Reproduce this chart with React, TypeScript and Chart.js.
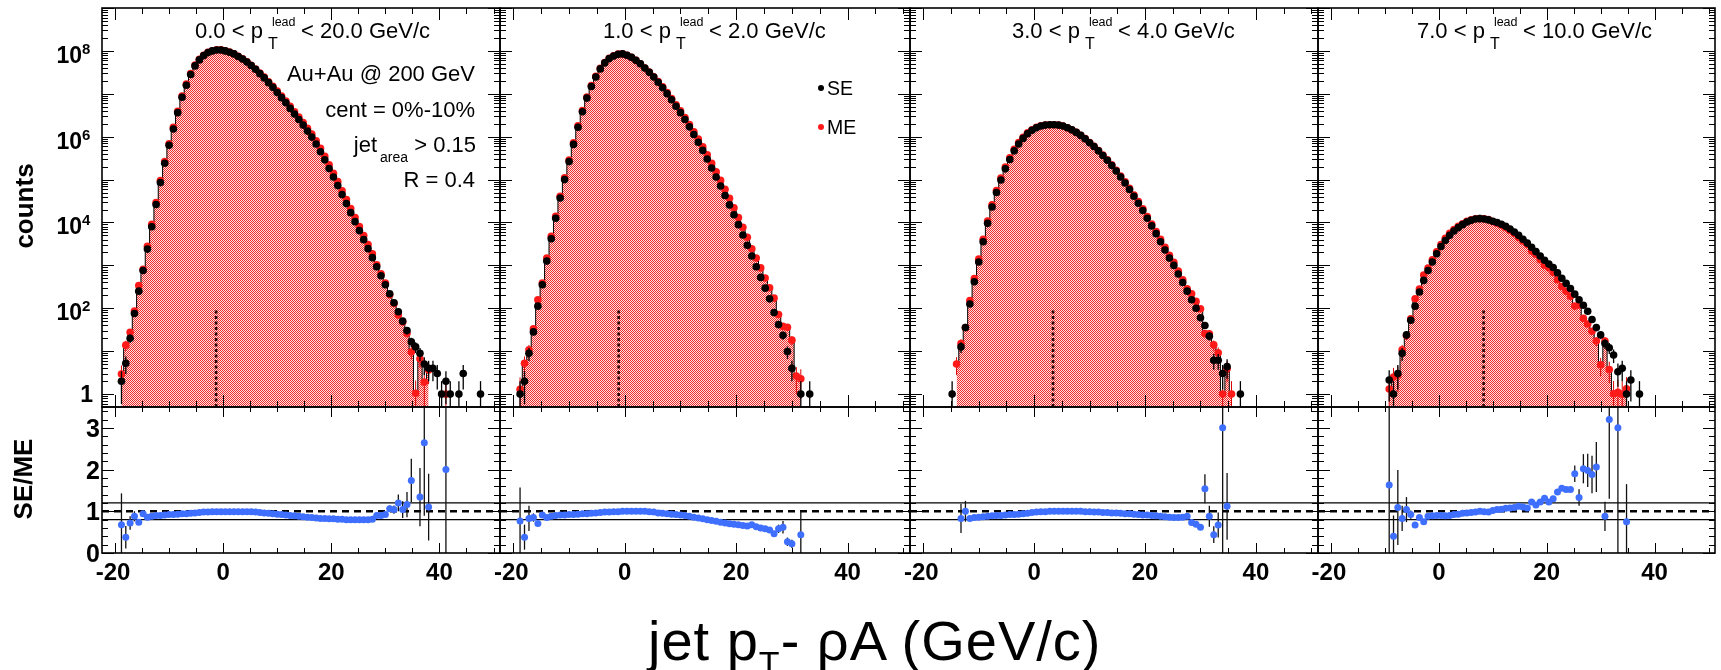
import React, { useEffect, useRef } from "react";
import { Chart, registerables } from "chart.js";

Chart.register(...registerables);

const W = 1721;
const H = 670;
const FONT = '"Liberation Sans", Arial, Helvetica, sans-serif';

// ---------------- DATA ----------------
// bin centres of the jet pT - rho*A histograms (GeV/c)
const BIN_CENTERS = [
  -19.6, -18.8, -18.0, -17.2, -16.4, -15.6, -14.8, -14.0, -13.2, -12.4,
  -11.6, -10.8, -10.0, -9.2, -8.4, -7.6, -6.8, -6.0, -5.2, -4.4,
  -3.6, -2.8, -2.0, -1.2, -0.4, 0.4, 1.2, 2.0, 2.8, 3.6,
  4.4, 5.2, 6.0, 6.8, 7.6, 8.4, 9.2, 10.0, 10.8, 11.6,
  12.4, 13.2, 14.0, 14.8, 15.6, 16.4, 17.2, 18.0, 18.8, 19.6,
  20.4, 21.2, 22.0, 22.8, 23.6, 24.4, 25.2, 26.0, 26.8, 27.6,
  28.4, 29.2, 30.0, 30.8, 31.6, 32.4, 33.2, 34.0, 34.8, 35.6,
  36.4, 37.2, 38.0, 38.8, 39.6, 40.4, 41.2, 42.0, 42.8, 43.6,
  44.4, 45.2, 46.0, 46.8, 47.6,
];

// same-event (SE) counts, log10
const SE_LOG_P1 = [
  null, 0.3, 0.72, 1.3, 1.88, 2.4, 2.88, 3.38, 3.9, 4.42,
  4.93, 5.38, 5.8, 6.18, 6.56, 6.92, 7.2, 7.45, 7.65, 7.79,
  7.89, 7.96, 8.0, 8.02, 8.02, 8.0, 7.97, 7.93, 7.87, 7.81,
  7.74, 7.66, 7.57, 7.47, 7.37, 7.26, 7.15, 7.03, 6.91, 6.79,
  6.66, 6.53, 6.4, 6.27, 6.13, 5.99, 5.83, 5.65, 5.46, 5.26,
  5.06, 4.86, 4.65, 4.44, 4.23, 4.02, 3.81, 3.6, 3.39, 3.18,
  2.97, 2.76, 2.55, 2.34, 2.13, 1.92, 1.7, 1.48, 1.22, 1.1,
  0.95, 0.7, 0.6, 0.6, 0.48, 0, 0.3, 0, null, 0,
  0.48, null, null, null, 0,
];
const SE_LOG_P2 = [
  null, 0.0, 0.3, 0.95, 1.45, 2.05, 2.55, 3.1, 3.62, 4.1,
  4.57, 5.0, 5.42, 5.82, 6.22, 6.58, 6.9, 7.17, 7.39, 7.58,
  7.72, 7.82, 7.88, 7.92, 7.93, 7.9, 7.85, 7.78, 7.7, 7.6,
  7.5, 7.39, 7.27, 7.14, 7.0, 6.86, 6.71, 6.56, 6.4, 6.23,
  6.05, 5.87, 5.68, 5.48, 5.27, 5.06, 4.85, 4.63, 4.41, 4.18,
  3.95, 3.71, 3.47, 3.22, 2.97, 2.72, 2.47, 2.22, 1.9, 1.62,
  1.37, 0.99, 0.6, null, 0, null, 0, null, null, null,
];
const SE_LOG_P3 = [
  null, null, null, null, null, null, 0, null, 1.1, 1.55,
  2.1, 2.62, 3.08, 3.55, 3.98, 4.36, 4.7, 4.99, 5.25, 5.47,
  5.67, 5.83, 5.96, 6.07, 6.15, 6.21, 6.25, 6.27, 6.28, 6.28,
  6.27, 6.25, 6.21, 6.16, 6.1, 6.03, 5.95, 5.86, 5.77, 5.67,
  5.56, 5.45, 5.33, 5.2, 5.06, 4.92, 4.77, 4.61, 4.45, 4.28,
  4.1, 3.92, 3.74, 3.55, 3.36, 3.17, 3.0, 2.8, 2.6, 2.4,
  2.2, 2.0, 1.78, 1.6, 1.35, 0.79, 0.79, 0.48, 0.64, null,
  null, 0,
];
const SE_LOG_P4 = [
  null, null, null, null, null, null, null, null, null, null,
  null, null, null, 0.33, 0, 0.48, 0.95, 1.38, 1.72, 2.05,
  2.38, 2.65, 2.88, 3.08, 3.27, 3.44, 3.58, 3.7, 3.8, 3.88,
  3.95, 4.01, 4.05, 4.08, 4.09, 4.08, 4.06, 4.03, 4.0, 3.96,
  3.91, 3.85, 3.78, 3.7, 3.61, 3.52, 3.42, 3.32, 3.22, 3.12,
  3.03, 2.95, 2.83, 2.7, 2.58, 2.46, 2.33, 2.2, 2.07, 1.93,
  1.74, 1.55, 1.38, 1.18, 1.08, 0.91, 0.52, 0.6, 0, 0.33,
  null, 0,
];

// SE / ME ratio (values above 3.5 lie off the ratio pad)
const RATIO_P1 = [
  null, 0.68, 0.38, 0.72, 0.88, 0.74, 0.94, 0.86, 0.88, 0.9,
  0.9, 0.91, 0.92, 0.92, 0.93, 0.94, 0.94, 0.95, 0.96, 0.97,
  0.98, 0.98, 0.99, 0.99, 0.99, 0.99, 0.99, 0.99, 0.99, 0.99,
  0.99, 0.99, 0.98, 0.97, 0.96, 0.95, 0.94, 0.93, 0.92, 0.91,
  0.9, 0.89, 0.88, 0.87, 0.86, 0.85, 0.84, 0.83, 0.83, 0.82,
  0.82, 0.81, 0.81, 0.8, 0.8, 0.8, 0.8, 0.8, 0.8, 0.81,
  0.9, 0.9, 0.92, 1.06, 1.04, 1.2, 1.04, 1.16, 1.74, 12.0,
  1.34, 2.64, 1.1, null, null, null, 2.0,
];
const RATIO_P2 = [
  null, 0.77, 0.38, 0.83, 0.85, 0.71, 0.91, 0.85, 0.88, 0.9,
  0.91, 0.91, 0.92, 0.92, 0.93, 0.94, 0.94, 0.95, 0.96, 0.97,
  0.98, 0.98, 0.99, 0.99, 1.0, 1.0, 1.0, 1.0, 1.0, 1.0,
  0.99, 0.98, 0.96, 0.95, 0.94, 0.93, 0.92, 0.91, 0.9, 0.88,
  0.86, 0.84, 0.82, 0.8, 0.78, 0.76, 0.74, 0.72, 0.7, 0.69,
  0.68, 0.66, 0.65, 0.68, 0.63, 0.6, 0.58, 0.55, 0.46, 0.58,
  0.62, 0.27, 0.22, null, 0.44,
];
const RATIO_P3 = [
  null, null, null, null, null, null, null, null, 0.83, 1.0,
  0.83, 0.85, 0.86, 0.87, 0.88, 0.89, 0.9, 0.9, 0.91, 0.92,
  0.92, 0.93, 0.94, 0.95, 0.97, 0.98, 0.99, 0.99, 1.0, 1.0,
  1.0, 1.0, 1.0, 1.0, 1.0, 1.0, 0.99, 0.99, 0.98, 0.98,
  0.97, 0.97, 0.96, 0.96, 0.95, 0.94, 0.94, 0.93, 0.92, 0.91,
  0.91, 0.9, 0.89, 0.88, 0.87, 0.86, 0.85, 0.85, 0.86, 0.88,
  0.73, 0.69, 0.62, 1.54, 0.88, 0.44, 0.67, 3.0, 1.12,
];
const RATIO_P4 = [
  null, null, null, null, null, null, null, null, null, null,
  null, null, null, 1.63, 0.4, 1.09, 0.83, 1.04, 0.92, 0.67,
  0.85, 0.75, 0.88, 0.89, 0.9, 0.9, 0.89, 0.9, 0.92, 0.93,
  0.95, 0.96, 0.97, 0.98, 1.0, 0.99, 0.98, 1.02, 1.04, 1.05,
  1.07, 1.08, 1.09, 1.12, 1.1, 1.08, 1.22, 1.15, 1.22, 1.31,
  1.22, 1.3, 1.46, 1.55, 1.52, 1.52, 1.9, 1.33, 2.02, 1.98,
  1.88, 2.06, 5.0, 0.88, 3.2, 8.0, 3.0, 4.0, 0.75,
];

// visible SE/ME error bars: [bin centre, half-length]
const RATIO_ERR_P1 = [
  [-18.8, 0.75], [-18.0, 0.27], [-17.2, 0.16], [-16.4, 0.12], [-15.6, 0.06], [-14.8, 0.05],
  [30.8, 0.08], [31.6, 0.1], [32.4, 0.2], [33.2, 0.2], [34.0, 0.3], [34.8, 0.52],
  [36.4, 0.7], [37.2, 1.75], [38.0, 0.8], [41.2, 4],
];
const RATIO_ERR_P2 = [
  [-18.8, 0.8], [-18.0, 0.3], [-17.2, 0.3], [-16.4, 0.1], [-15.6, 0.05],
  [26.8, 0.05], [27.6, 0.1], [28.4, 0.15], [29.2, 0.1], [30.0, 0.1], [31.6, 0.56],
];
const RATIO_ERR_P3 = [
  [-13.2, 0.35], [-12.4, 0.25], [-11.6, 0.06], [30.0, 0.05], [30.8, 0.35],
  [31.6, 0.25], [32.4, 0.2], [33.2, 0.3], [34.0, 4], [34.8, 0.8],
];
const RATIO_ERR_P4 = [
  [-9.2, 4], [-8.4, 0.5], [-7.6, 0.9], [-6.8, 0.3], [-6.0, 0.3], [-5.2, 0.1], [-4.4, 0.05],
  [25.2, 0.2], [26.0, 0.2], [26.8, 0.35], [27.6, 0.4], [28.4, 0.45], [29.2, 0.6],
  [30.8, 0.35], [31.6, 1.9], [33.2, 4], [34.8, 0.9],
];

// mixed-event (ME) bins where the same-event histogram is empty: [bin centre, log10 counts]
const ME_ONLY_P1 = [];
const ME_ONLY_P2 = [[30.8, 0.42]];
const ME_ONLY_P3 = [[-14.0, 0.7], [35.6, 0]];
const ME_ONLY_P4 = [];

const MEAN_X = [-1.3, -1.1, 3.4, 8.3];
const MEAN_LINE_TOP = 100;

const LEAD_LO = ["0.0", "1.0", "3.0", "7.0"];
const LEAD_HI = ["20.0", "2.0", "4.0", "10.0"];

const X_MIN = -22.4;
const X_MAX = 51.2;
const Y_MIN = 0.5;
const Y_MAX = 1e9;
const R_MIN = 0;
const R_MAX = 3.5;

const X_TICKS = [-20, -15, -10, -5, 0, 5, 10, 15, 20, 25, 30, 35, 40, 45, 50];
const X_MAJOR = [-20, 0, 20, 40];
const X_TICK_LABELS = ["-20", "0", "20", "40"];
const LOG_LABEL_EXP = [0, 2, 4, 6, 8];
const RATIO_TICK_LABELS = [0, 1, 2, 3];
const RATIO_REF = [0.8, 1.0, 1.2];

// ---------------- LAYOUT ----------------
const FRAMES_X = [[102, 500], [500, 910], [910, 1318], [1318, 1715]];
const TOP_Y = [8, 407];
const BOT_Y = [407, 553];

const PANELS = [
  { se: SE_LOG_P1, ratio: RATIO_P1, err: RATIO_ERR_P1, meOnly: ME_ONLY_P1 },
  { se: SE_LOG_P2, ratio: RATIO_P2, err: RATIO_ERR_P2, meOnly: ME_ONLY_P2 },
  { se: SE_LOG_P3, ratio: RATIO_P3, err: RATIO_ERR_P3, meOnly: ME_ONLY_P3 },
  { se: SE_LOG_P4, ratio: RATIO_P4, err: RATIO_ERR_P4, meOnly: ME_ONLY_P4 },
];

function logTicks() {
  const t: [number, boolean][] = [];
  for (let e = -1; e <= 9; e++) {
    for (let m = 1; m <= 9; m++) {
      const v = m * Math.pow(10, e);
      if (v >= Y_MIN - 1e-9 && v <= Y_MAX * 1.0001) t.push([v, m === 1]);
    }
  }
  return t;
}
function ratioTicks() {
  const t: [number, boolean][] = [];
  for (let i = 0; i <= 17; i++) t.push([i * 0.2, i % 5 === 0]);
  return t;
}

type ErrSet = { color: string; width: number; log: boolean; bars: { x: number; lo: number; hi: number }[] };

function makePlugin(cfg: any) {
  return {
    id: "rootFrame",
    beforeDatasetsDraw(chart: any) {
      if (!cfg.refLines) return;
      const { ctx, chartArea: a, scales } = chart;
      ctx.save();
      ctx.strokeStyle = "#000";
      RATIO_REF.forEach((v) => {
        const py = scales.y.getPixelForValue(v);
        ctx.beginPath();
        if (v === 1) {
          ctx.setLineDash([7, 5]);
          ctx.lineWidth = 2.5;
        } else {
          ctx.setLineDash([]);
          ctx.lineWidth = 1.3;
        }
        ctx.moveTo(a.left, py);
        ctx.lineTo(a.right, py);
        ctx.stroke();
      });
      ctx.restore();
    },
    beforeDatasetDraw(chart: any, args: any) {
      const es: ErrSet | undefined = cfg.errs[args.index];
      if (!es) return;
      const { ctx, chartArea: a, scales } = chart;
      ctx.save();
      ctx.beginPath();
      ctx.rect(a.left, a.top, a.right - a.left, a.bottom - a.top);
      ctx.clip();
      ctx.strokeStyle = es.color;
      ctx.lineWidth = es.width;
      es.bars.forEach((b) => {
        const px = scales.x.getPixelForValue(b.x);
        const y1 = es.log && b.lo <= 0 ? a.bottom + 2 : scales.y.getPixelForValue(b.lo);
        const y2 = scales.y.getPixelForValue(b.hi);
        ctx.beginPath();
        ctx.moveTo(px, y1);
        ctx.lineTo(px, y2);
        ctx.stroke();
      });
      ctx.restore();
    },
    afterDraw(chart: any) {
      const { ctx, chartArea: a, scales } = chart;
      const x = scales.x;
      const y = scales.y;
      ctx.save();
      ctx.strokeStyle = "#000";
      ctx.lineWidth = 1;
      const seg = (x1: number, y1: number, x2: number, y2: number) => {
        ctx.beginPath();
        ctx.moveTo(x1, y1);
        ctx.lineTo(x2, y2);
        ctx.stroke();
      };
      X_TICKS.forEach((v) => {
        const px = Math.round(x.getPixelForValue(v)) + 0.5;
        const len = X_MAJOR.includes(v) ? cfg.xMaj : cfg.xMin;
        seg(px, a.bottom, px, a.bottom - len);
        seg(px, a.top, px, a.top + len);
      });
      cfg.yTicks.forEach(([v, major]: [number, boolean]) => {
        const py = Math.round(y.getPixelForValue(v)) + 0.5;
        const len = major ? cfg.yMaj : cfg.yMin;
        seg(a.left, py, a.left + len, py);
        seg(a.right, py, a.right - len, py);
      });
      ctx.lineWidth = 1.6;
      ctx.strokeRect(a.left, a.top, a.right - a.left, a.bottom - a.top);

      ctx.fillStyle = "#000";
      if (cfg.xLabels) {
        ctx.font = `bold 24px ${FONT}`;
        ctx.textAlign = "center";
        ctx.textBaseline = "alphabetic";
        X_MAJOR.forEach((v, i) => {
          ctx.fillText(X_TICK_LABELS[i], x.getPixelForValue(v) - (v < 0 ? 2 : 0), 580);
        });
      }
      if (cfg.yLabels === "log") {
        ctx.textBaseline = "alphabetic";
        LOG_LABEL_EXP.forEach((e) => {
          const py = y.getPixelForValue(Math.pow(10, e));
          if (e === 0) {
            ctx.font = `bold 23px ${FONT}`;
            ctx.textAlign = "right";
            ctx.fillText("1", 93, py + 8);
          } else {
            ctx.font = `bold 23px ${FONT}`;
            ctx.textAlign = "right";
            ctx.fillText("10", 82, py + 12);
            ctx.font = `bold 15px ${FONT}`;
            ctx.textAlign = "left";
            ctx.fillText(String(e), 82, py + 3);
          }
        });
      }
      if (cfg.yLabels === "ratio") {
        ctx.font = `bold 25px ${FONT}`;
        ctx.textAlign = "right";
        ctx.textBaseline = "alphabetic";
        RATIO_TICK_LABELS.forEach((v) => {
          ctx.fillText(String(v), 100, y.getPixelForValue(v) + 9);
        });
      }
      ctx.restore();
    },
  };
}

function makePattern(ctx: CanvasRenderingContext2D) {
  const c = document.createElement("canvas");
  c.width = 2;
  c.height = 2;
  const g = c.getContext("2d")!;
  g.fillStyle = "rgb(255,225,225)";
  g.fillRect(0, 0, 2, 2);
  g.fillStyle = "rgb(238,45,45)";
  g.fillRect(0, 0, 1, 1);
  g.fillRect(1, 1, 1, 1);
  return ctx.createPattern(c, "repeat");
}

function findBin(x: number) {
  return BIN_CENTERS.findIndex((c) => Math.abs(c - x) < 0.01);
}

function topConfig(p: number, ctx: CanvasRenderingContext2D) {
  const P = PANELS[p];
  const [x0, x1] = FRAMES_X[p];
  const sePts: any[] = [];
  const seBars: any[] = [];
  const meVal: (number | null)[] = BIN_CENTERS.map(() => null);
  BIN_CENTERS.forEach((x, k) => {
    const l = P.se[k];
    if (l === null || l === undefined) return;
    const n = Math.pow(10, l);
    sePts.push({ x, y: n });
    seBars.push({ x, lo: n - Math.sqrt(n), hi: n + Math.sqrt(n) });
    const r = P.ratio[k];
    if (r !== null && r !== undefined && r > 0) meVal[k] = n / r;
  });
  P.meOnly.forEach(([x, l]: number[]) => {
    const k = findBin(x);
    if (k >= 0) meVal[k] = Math.pow(10, l);
  });
  const mePts: any[] = [];
  const meBars: any[] = [];
  let first = -1;
  let last = -1;
  meVal.forEach((v, k) => {
    if (v === null) return;
    if (first < 0) first = k;
    last = k;
    mePts.push({ x: BIN_CENTERS[k], y: v });
    meBars.push({ x: BIN_CENTERS[k], lo: v - Math.sqrt(v), hi: v + Math.sqrt(v) });
  });
  const hist: any[] = [];
  for (let k = first; k <= last; k++) hist.push({ x: BIN_CENTERS[k], y: meVal[k] });

  const datasets: any[] = [
    {
      data: sePts,
      showLine: false,
      pointRadius: 3.8,
      pointBackgroundColor: "#000",
      pointBorderColor: "#000",
      pointBorderWidth: 0,
      order: 1,
    },
    {
      data: mePts,
      showLine: false,
      pointRadius: 3.8,
      pointBackgroundColor: "#ff1a1a",
      pointBorderColor: "#ff1a1a",
      pointBorderWidth: 0,
      order: 2,
    },
    {
      data: [
        { x: MEAN_X[p], y: Y_MIN },
        { x: MEAN_X[p], y: MEAN_LINE_TOP },
      ],
      borderColor: "#2a0505",
      borderWidth: 2.6,
      borderDash: [3, 2.5],
      pointRadius: 0,
      fill: false,
      order: 3,
    },
    {
      data: hist,
      stepped: "middle",
      borderColor: "#000",
      borderWidth: 1,
      backgroundColor: makePattern(ctx),
      fill: "start",
      pointRadius: 0,
      spanGaps: false,
      order: 4,
    },
  ];
  const errs: Record<number, ErrSet> = {
    0: { color: "#000", width: 1.3, log: true, bars: seBars },
    1: { color: "#d00", width: 1, log: true, bars: meBars },
  };
  return {
    type: "line",
    data: { datasets },
    options: {
      animation: false,
      responsive: false,
      devicePixelRatio: 1,
      events: [],
      layout: { padding: { left: x0, right: W - x1, top: TOP_Y[0], bottom: H - TOP_Y[1] } },
      plugins: { legend: { display: false }, tooltip: { enabled: false }, title: { display: false } },
      scales: {
        x: { type: "linear", min: X_MIN, max: X_MAX, display: false },
        y: { type: "logarithmic", min: Y_MIN, max: Y_MAX, display: false },
      },
    },
    plugins: [
      makePlugin({
        errs,
        xMaj: 12,
        xMin: 6,
        yMaj: 12,
        yMin: 6,
        yTicks: logTicks(),
        xLabels: false,
        yLabels: p === 0 ? "log" : null,
        refLines: false,
      }),
    ],
  };
}

function ratioConfig(p: number) {
  const P = PANELS[p];
  const [x0, x1] = FRAMES_X[p];
  const pts: any[] = [];
  BIN_CENTERS.forEach((x, k) => {
    const r = P.ratio[k];
    if (r === null || r === undefined) return;
    pts.push({ x, y: r });
  });
  const bars = P.err.map(([x, e]: number[]) => {
    const k = findBin(x);
    const r = P.ratio[k] as number;
    return { x, lo: r - e, hi: r + e };
  });
  return {
    type: "line",
    data: {
      datasets: [
        {
          data: pts,
          showLine: false,
          pointRadius: 3.5,
          pointBackgroundColor: "#3f6fff",
          pointBorderColor: "#3f6fff",
          pointBorderWidth: 0,
        },
      ],
    },
    options: {
      animation: false,
      responsive: false,
      devicePixelRatio: 1,
      events: [],
      layout: { padding: { left: x0, right: W - x1, top: BOT_Y[0], bottom: H - BOT_Y[1] } },
      plugins: { legend: { display: false }, tooltip: { enabled: false }, title: { display: false } },
      scales: {
        x: { type: "linear", min: X_MIN, max: X_MAX, display: false },
        y: { type: "linear", min: R_MIN, max: R_MAX, display: false },
      },
    },
    plugins: [
      makePlugin({
        errs: { 0: { color: "#111", width: 1.3, log: false, bars } },
        xMaj: 10,
        xMin: 5,
        yMaj: 12,
        yMin: 6,
        yTicks: ratioTicks(),
        xLabels: true,
        yLabels: p === 0 ? "ratio" : null,
        refLines: true,
      }),
    ],
  };
}

function ChartCanvas({ make }: { make: (ctx: CanvasRenderingContext2D) => any }) {
  const ref = useRef<HTMLCanvasElement>(null);
  useEffect(() => {
    const canvas = ref.current!;
    const ctx = canvas.getContext("2d")!;
    const chart = new Chart(canvas, make(ctx));
    return () => chart.destroy();
  }, []);
  return (
    <canvas
      ref={ref}
      width={W}
      height={H}
      style={{ position: "absolute", left: 0, top: 0, width: W, height: H }}
    />
  );
}

// ---------------- TEXT OVERLAYS ----------------
const ASC = 0.8465; // baseline offset for line-height:1 in Liberation Sans

function Txt({
  x,
  base,
  size,
  bold,
  right,
  spacing,
  children,
}: {
  x: number;
  base: number;
  size: number;
  bold?: boolean;
  right?: boolean;
  spacing?: number;
  children: any;
}) {
  const style: any = {
    position: "absolute",
    top: base - ASC * size,
    fontFamily: FONT,
    fontSize: size,
    fontWeight: bold ? "bold" : "normal",
    lineHeight: 1,
    whiteSpace: "nowrap",
    color: "#000",
    letterSpacing: spacing || 0,
  };
  if (right) {
    style.right = W - x;
    style.textAlign = "right";
  } else style.left = x;
  return <div style={style}>{children}</div>;
}

function LeadTitle({ p }: { p: number }) {
  const lefts = [195, 603, 1012, 1417];
  return (
    <Txt x={lefts[p]} base={39} size={22}>
      {LEAD_LO[p] + " < p"}
      <span style={{ position: "relative", display: "inline-block", width: 32, height: 0 }}>
        <span style={{ position: "absolute", left: 9, top: -12 - ASC * 12.5, fontSize: 12.5, lineHeight: 1 }}>
          lead
        </span>
        <span style={{ position: "absolute", left: 5, top: 11 - ASC * 16, fontSize: 16, lineHeight: 1 }}>T</span>
      </span>
      {" < " + LEAD_HI[p] + " GeV/c"}
    </Txt>
  );
}

function Rotated({ cx, cy, children }: { cx: number; cy: number; children: any }) {
  return (
    <div
      style={{
        position: "absolute",
        left: cx,
        top: cy,
        transform: "translate(-50%, -50%) rotate(-90deg)",
        fontFamily: FONT,
        fontWeight: "bold",
        fontSize: 26,
        lineHeight: 1,
        whiteSpace: "nowrap",
      }}
    >
      {children}
    </div>
  );
}

function Dot({ x, y, color }: { x: number; y: number; color: string }) {
  return (
    <div
      style={{
        position: "absolute",
        left: x - 3,
        top: y - 3,
        width: 6,
        height: 6,
        borderRadius: 3,
        background: color,
      }}
    />
  );
}

function Overlays() {
  return (
    <>
      {PANELS.map((_, p) => (
        <LeadTitle key={p} p={p} />
      ))}
      <Txt x={475} base={82} size={22} right>
        Au+Au @ 200 GeV
      </Txt>
      <Txt x={475} base={118} size={22} right>
        cent = 0%-10%
      </Txt>
      <Txt x={476} base={153} size={22} right>
        jet
        <span style={{ fontSize: 14, position: "relative", top: 10, marginLeft: 3 }}>area</span>
        {" > 0.15"}
      </Txt>
      <Txt x={475} base={188} size={22} right>
        R = 0.4
      </Txt>

      <Dot x={821} y={88} color="#000" />
      <Txt x={827} base={95.5} size={19.5}>
        SE
      </Txt>
      <Dot x={821} y={127} color="#ff1a1a" />
      <Txt x={827} base={135} size={19.5}>
        ME
      </Txt>

      <Rotated cx={24} cy={206}>
        counts
      </Rotated>
      <Rotated cx={23} cy={479}>
        SE/ME
      </Rotated>

      <Txt x={648} base={660} size={56} spacing={1}>
        {"jet p"}
        <span style={{ fontSize: 34, position: "relative", top: 15 }}>T</span>
        {"- ρA (GeV/c)"}
      </Txt>
    </>
  );
}

export default function App() {
  return (
    <div
      style={{
        position: "fixed",
        left: 0,
        top: 0,
        width: W,
        height: H,
        background: "#fff",
        overflow: "hidden",
      }}
    >
      {PANELS.map((_, p) => (
        <ChartCanvas key={"t" + p} make={(ctx) => topConfig(p, ctx)} />
      ))}
      {PANELS.map((_, p) => (
        <ChartCanvas key={"b" + p} make={() => ratioConfig(p)} />
      ))}
      <Overlays />
    </div>
  );
}
